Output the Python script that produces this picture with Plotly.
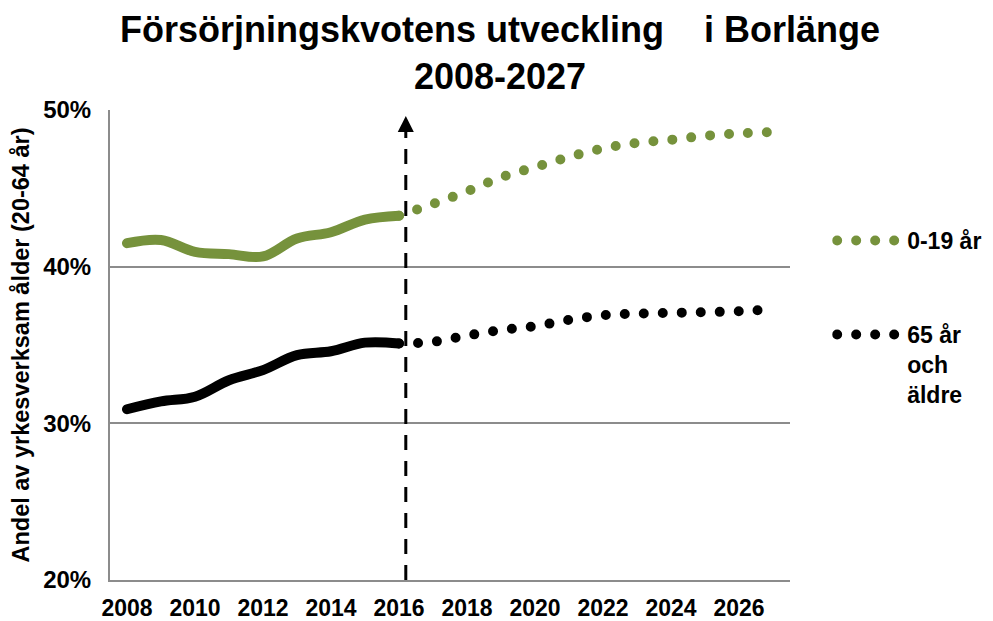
import plotly.graph_objects as go

# Försörjningskvot i Borlänge, andel (%) av befolkningen i yrkesverksam ålder
ar_utfall = [2008, 2009, 2010, 2011, 2012, 2013, 2014, 2015, 2016]
unga_utfall = [41.5, 41.7, 40.95, 40.8, 40.65, 41.8, 42.2, 43.0, 43.25]
aldre_utfall = [30.9, 31.4, 31.7, 32.75, 33.4, 34.35, 34.6, 35.15, 35.1]

ar_prognos = [2016, 2017, 2018, 2019, 2020, 2021, 2022, 2023, 2024, 2025, 2026, 2027]
unga_prognos = [43.25, 44.0, 44.8, 45.7, 46.35, 47.0, 47.55, 47.9, 48.1, 48.35, 48.5, 48.6]
aldre_prognos = [35.1, 35.2, 35.6, 35.95, 36.2, 36.6, 36.9, 37.0, 37.05, 37.1, 37.15, 37.3]

prognos_start = 2016.2
gron = "#76923c"
svart = "#000000"
grid = "#8c8c8c"
prickar = "0px,19px"
typsnitt = "Liberation Sans, Arial, sans-serif"

# sidan har 8 px marginal runt diagrammet, så figuren görs 8 px mindre
W, H = 985, 613

fig = go.Figure()
fig.add_trace(go.Scatter(x=ar_utfall, y=unga_utfall, mode="lines", showlegend=False,
                         line=dict(color=gron, width=10, shape="spline")))
fig.add_trace(go.Scatter(x=ar_utfall, y=aldre_utfall, mode="lines", showlegend=False,
                         line=dict(color=svart, width=10, shape="spline")))
fig.add_trace(go.Scatter(x=ar_prognos, y=unga_prognos, mode="lines", name="0-19 år",
                         legend="legend",
                         line=dict(color=gron, width=10, shape="spline", dash=prickar)))
fig.add_trace(go.Scatter(x=ar_prognos, y=aldre_prognos, mode="lines", name="65 år<br>och<br>äldre",
                         legend="legend2",
                         line=dict(color=svart, width=10, shape="spline", dash=prickar)))

# streckad linje som markerar var prognosen börjar
fig.add_shape(type="line", x0=prognos_start, x1=prognos_start, y0=20, y1=49.3,
              xref="x", yref="y", line=dict(color="black", width=3, dash="15px,11px"))
fig.add_annotation(x=prognos_start, y=49.62, xref="x", yref="y", text="", showarrow=True,
                   ax=0, ay=16, arrowhead=2, arrowsize=1.07, arrowwidth=3, arrowcolor="black")

legend_font = dict(family=typsnitt, size=23, color="black", weight="bold")
fig.update_layout(
    width=W, height=H,
    margin=dict(l=102, r=203, t=102, b=41, autoexpand=False),
    paper_bgcolor="white", plot_bgcolor="white",
    font=dict(family=typsnitt, color="black", weight="bold"),
    title=dict(text="Försörjningskvotens utveckling\u00a0\u00a0\u00a0 i Borlänge<br>2008-2027\u00a0\u2009",
               x=492 / W, xanchor="center", xref="container",
               y=1 - 34 / H, yanchor="top", yref="container",
               font=dict(family=typsnitt, size=36, color="black", weight="bold")),
    xaxis=dict(range=[2007.5, 2027.5], tickmode="linear", tick0=2008, dtick=2,
               showgrid=False, showline=True, linecolor=grid, linewidth=2,
               ticks="", ticklabelstandoff=6, automargin=False,
               tickfont=dict(family=typsnitt, size=23, color="black", weight="bold"),
               zeroline=False),
    yaxis=dict(range=[20, 50], tickmode="linear", tick0=20, dtick=10, ticksuffix="%",
               showgrid=True, gridcolor=grid, gridwidth=2, automargin=False,
               showline=True, linecolor=grid, linewidth=2, ticks="", ticklabelstandoff=12,
               tickfont=dict(family=typsnitt, size=24, color="black", weight="bold"),
               title=dict(text="Andel av yrkesverksam ålder (20-64 år)", standoff=8,
                          font=dict(family=typsnitt, size=23.5, color="black", weight="bold")),
               zeroline=False),
    legend=dict(x=1.062, xanchor="left", y=(H - 41 - 211) / 470, yanchor="top",
                yref="paper", font=legend_font, itemwidth=65, bgcolor="rgba(0,0,0,0)"),
    legend2=dict(x=1.062, xanchor="left", y=(H - 41 - 305) / 470, yanchor="top",
                 yref="paper", font=legend_font, itemwidth=65, valign="top",
                 bgcolor="rgba(0,0,0,0)"),
)

# runda ändar på linjerna så att prickarna blir runda
runda = """
var gd = document.getElementById('{plot_id}');
function runda() {
  gd.querySelectorAll('path.js-line').forEach(function (p) { p.style.strokeLinecap = 'round'; });
}
runda();
gd.on('plotly_afterplot', runda);
"""
fig.write_html("out.html", post_script=runda)
